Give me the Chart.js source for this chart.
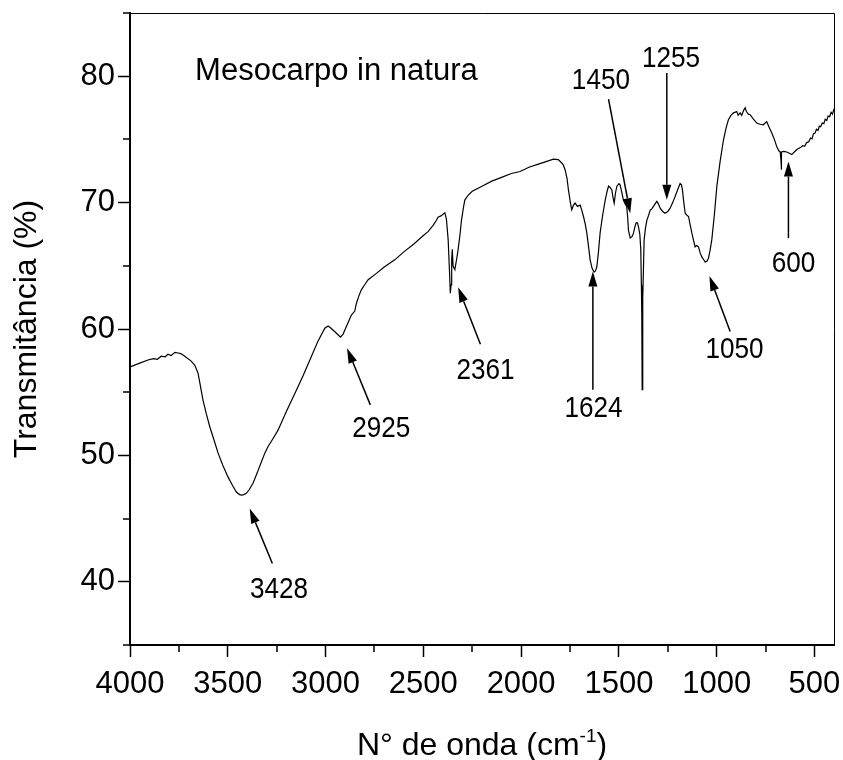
<!DOCTYPE html>
<html><head><meta charset="utf-8">
<script src="https://cdn.jsdelivr.net/npm/chart.js@4.4.0/dist/chart.umd.min.js"></script>
<style>html,body{margin:0;padding:0;background:#fff}canvas{display:block}</style>
</head><body>
<canvas id="c" width="843" height="760" style="width:843px;height:760px"></canvas>
<script>
// ---- data ----
const wavenumber = [
4000,3950,3908,3880,3860,3840,3820,3806,3790,3770,3754,3740,3725,3712,3690,3669,3652,3640,3627,3610,
3592,3570,3550,3525,3499,3475,3456,3440,3430,3418,3405,3390,3371,3350,3328,3310,3294,3270,3243,3200,
3157,3115,3073,3040,3004,2987,2975,2961,2940,2924,2910,2902,2885,2868,2851,2842,2830,2817,2800,2782,
2740,2700,2646,2600,2550,2500,2476,2450,2433,2425,2410,2390,2382,2373,2366,2362,2358,2355,2352,2348,
2343,2339,2330,2322,2313,2305,2295,2288,2270,2250,2200,2150,2100,2050,2005,1960,1920,1880,1835,1810,
1800,1785,1775,1765,1758,1748,1741,1732,1724,1712,1698,1690,1681,1672,1664,1655,1647,1637,1627,1620,
1613,1605,1596,1583,1570,1560,1553,1545,1536,1530,1524,1517,1510,1500,1494,1485,1477,1468,1460,1455,
1451,1442,1433,1425,1418,1412,1405,1400,1393,1388,1385,1383,1381,1379,1377,1374,1371,1364,1357,1348,
1340,1332,1323,1315,1306,1298,1289,1276,1264,1250,1238,1225,1212,1200,1187,1180,1175,1168,1161,1152,
1144,1135,1127,1118,1110,1102,1093,1084,1076,1067,1059,1050,1042,1034,1025,1012,999,982,965,952,
940,927,914,897,890,880,872,862,854,848,838,829,812,795,778,761,752,744,730,718,705,
693,682,675,671,670,669,667,655,642,628,616,603,590,572,560,550,540,530,520,512,505,497,490,482,
475,468,460,452,445,437,430,422,415,408,402,400];
const transmittance = [
57.0,57.3,57.55,57.65,57.6,57.85,57.8,58.0,57.9,58.15,58.1,58.05,57.9,57.75,57.5,57.15,56.5,55.5,54.4,53.3,
52.27,51.2,50.2,49.2,48.3,47.6,47.1,46.9,46.86,46.9,47.0,47.3,47.8,48.6,49.5,50.2,50.7,51.3,52.0,53.5,
54.9,56.3,57.8,59.0,60.06,60.24,60.1,59.9,59.6,59.35,59.6,59.9,60.5,61.1,61.4,62.04,62.6,63.1,63.5,63.9,
64.4,64.9,65.47,66.1,66.7,67.4,67.7,68.2,68.6,68.85,68.95,69.2,68.7,67.05,64.5,62.83,63.5,65.5,66.3,65.0,
64.8,64.7,65.5,66.3,67.4,68.6,69.6,70.2,70.6,70.9,71.3,71.7,72.0,72.3,72.46,72.8,73.0,73.2,73.44,73.4,
73.25,73.0,72.6,71.9,71.0,70.0,69.43,69.8,69.96,69.7,69.8,69.4,68.9,68.3,67.6,66.5,65.47,64.8,64.5,64.6,
64.9,66.0,67.6,69.0,70.2,70.9,71.3,71.2,71.0,70.4,69.96,70.8,71.3,71.5,71.4,70.8,70.2,69.9,69.7,68.8,
67.8,67.2,67.3,67.6,68.1,68.4,68.4,68.1,67.5,66.3,63.5,61.25,55.2,59.5,62.5,65.0,67.05,68.0,68.6,69.0,
69.4,69.5,69.7,69.9,70.1,69.9,69.56,69.3,69.16,69.3,69.56,70.0,70.5,71.0,71.5,71.4,71.0,70.0,69.16,69.0,
68.9,68.2,67.6,67.0,66.5,66.6,66.5,66.0,65.7,65.5,65.3,65.35,65.6,66.2,67.05,69.0,71.3,73.3,74.97,75.9,
76.55,76.9,77.1,77.2,76.9,77.1,76.9,77.3,77.5,77.2,77.0,76.95,76.6,76.3,76.2,76.16,76.3,76.4,75.9,75.5,75.0,
74.44,74.1,74.0,73.3,72.6,73.5,74.0,74.05,74.0,73.9,73.8,74.0,74.2,74.35,74.5,74.45,74.75,74.8,75.1,75.05,75.45,75.5,75.8,75.7,
76.05,76.0,76.3,76.25,76.6,76.5,76.85,76.8,77.15,77.0,77.3,77.2];

const xTickValues = [4000,3500,3000,2500,2000,1500,1000,500];
const yTickValues = [40,50,60,70,80];
const xMinorValues = [3750,3250,2750,2250,1750,1250,750];
const yMinorValues = [35,45,55,65,75,85];

const peakLabels = ['3428','2925','2361','1624','1450','1255','1050','600'];
const labelAt   = [[3238,38.7],[2715,51.45],[2182,56.05],[1630,53.06],[1592,78.98],[1234,80.72],[909,57.68],[607,64.54]];
const arrowFrom = [[3272,41.45],[2771,54.0],[2208,58.8],[1633,55.2],[1553,78.19],[1255,80.25],[931,59.8],[633,67.19]];
const arrowTo   = [[3388,45.8],[2890,58.48],[2322,63.3],[1633,64.54],[1442,69.16],[1255,70.22],[1037,64.2],[633,73.25]];
const sampleName = 'Mesocarpo in natura';
const sampleNameAt = [3667,79.72];
const xTitleParts = ['N° de onda (cm','-1',')'];
const yTitle = 'Transmitância (%)';

const FONT = "'Liberation Sans', Arial, Helvetica, sans-serif";
Chart.defaults.font.family = FONT;
Chart.defaults.color = '#000';

const extrasPlugin = {
  id: 'extras',
  afterDraw(chart) {
    const {ctx, chartArea: a, scales: {x, y}} = chart;
    ctx.save();
    ctx.strokeStyle = '#000';
    // top and right frame lines
    ctx.lineWidth = 1;
    ctx.beginPath();
    ctx.moveTo(a.left, a.top + 0.5); ctx.lineTo(a.right + 0.5, a.top + 0.5);
    ctx.lineTo(a.right + 0.5, a.bottom);
    ctx.stroke();
    // minor ticks
    ctx.lineWidth = 1.5;
    ctx.beginPath();
    xMinorValues.forEach(v => { const px = Math.round(x.getPixelForValue(v)); ctx.moveTo(px, a.bottom); ctx.lineTo(px, a.bottom + 7); });
    yMinorValues.forEach(v => { const py = Math.round(y.getPixelForValue(v)); ctx.moveTo(a.left, py); ctx.lineTo(a.left - 7, py); });
    ctx.stroke();
    // annotations
    ctx.fillStyle = '#000';
    ctx.lineWidth = 1.5;
    for (let i = 0; i < peakLabels.length; i++) {
      const x1 = x.getPixelForValue(arrowFrom[i][0]), y1 = y.getPixelForValue(arrowFrom[i][1]);
      const x2 = x.getPixelForValue(arrowTo[i][0]), y2 = y.getPixelForValue(arrowTo[i][1]);
      const ang = Math.atan2(y2 - y1, x2 - x1);
      const hl = 15, hw = 4.5;
      const bx = x2 - hl * Math.cos(ang), by = y2 - hl * Math.sin(ang);
      ctx.beginPath(); ctx.moveTo(x1, y1); ctx.lineTo(bx, by); ctx.stroke();
      ctx.beginPath();
      ctx.moveTo(x2, y2);
      ctx.lineTo(bx + hw * Math.sin(ang), by - hw * Math.cos(ang));
      ctx.lineTo(bx - hw * Math.sin(ang), by + hw * Math.cos(ang));
      ctx.closePath(); ctx.fill();
      const lx = x.getPixelForValue(labelAt[i][0]), ly = y.getPixelForValue(labelAt[i][1]);
      ctx.save();
      ctx.translate(lx, ly); ctx.scale(0.87, 1);
      ctx.font = '30px ' + FONT; ctx.textAlign = 'center'; ctx.textBaseline = 'alphabetic';
      ctx.fillText(peakLabels[i], 0, 0);
      ctx.restore();
    }
    // sample name
    ctx.font = '31px ' + FONT; ctx.textAlign = 'left'; ctx.textBaseline = 'alphabetic';
    ctx.fillText(sampleName, x.getPixelForValue(sampleNameAt[0]), y.getPixelForValue(sampleNameAt[1]));
    // x axis title with superscript
    const mainF = '32px ' + FONT, supF = '19px ' + FONT;
    ctx.font = mainF; const w0 = ctx.measureText(xTitleParts[0]).width, w2 = ctx.measureText(xTitleParts[2]).width;
    ctx.font = supF; const w1 = ctx.measureText(xTitleParts[1]).width;
    const total = w0 + w1 + w2;
    let tx = (a.left + a.right) / 2 - total / 2;
    const base = chart.height - 5;
    ctx.font = mainF; ctx.fillText(xTitleParts[0], tx, base); tx += w0;
    ctx.font = supF; ctx.fillText(xTitleParts[1], tx, base - 13); tx += w1;
    ctx.font = mainF; ctx.fillText(xTitleParts[2], tx, base);
    ctx.restore();
  }
};

const points = wavenumber.map((w, i) => ({x: w, y: transmittance[i]}));

new Chart(document.getElementById('c'), {
  type: 'line',
  data: { datasets: [{ data: points, borderColor: '#000', borderWidth: 1.2, pointRadius: 0, tension: 0, fill: false }] },
  options: {
    responsive: false, animation: false, devicePixelRatio: 1,
    layout: { padding: { left: 0, right: 9, top: 13, bottom: 0 } },
    plugins: { legend: { display: false }, tooltip: { enabled: false } },
    scales: {
      x: {
        type: 'linear', reverse: true, min: 400, max: 4000,
        afterBuildTicks: s => { s.ticks = xTickValues.map(v => ({value: v})); },
        afterFit: s => { s.height = 115; s.paddingLeft = 0; s.paddingRight = 0; },
        grid: { drawOnChartArea: false, drawTicks: true, tickLength: 12, tickWidth: 1.5, tickColor: '#000' },
        border: { display: true, color: '#000', width: 2 },
        ticks: { font: { size: 31, lineHeight: 1.2 }, color: '#000', padding: 9, maxRotation: 0, autoSkip: false, callback: v => String(v) }
      },
      y: {
        type: 'linear', min: 35, max: 85,
        afterBuildTicks: s => { s.ticks = yTickValues.map(v => ({value: v})); },
        afterFit: s => { s.width = 130; s.paddingTop = 0; s.paddingBottom = 0; },
        grid: { drawOnChartArea: false, drawTicks: true, tickLength: 12, tickWidth: 1.5, tickColor: '#000' },
        border: { display: true, color: '#000', width: 2 },
        ticks: { font: { size: 31, lineHeight: 1.2 }, color: '#000', padding: 3, autoSkip: false, callback: v => String(v) },
        title: { display: true, text: yTitle, color: '#000', font: { size: 32, lineHeight: 1.2 }, padding: { top: 8, bottom: 0 } }
      }
    }
  },
  plugins: [extrasPlugin]
});
</script>
</body></html>
